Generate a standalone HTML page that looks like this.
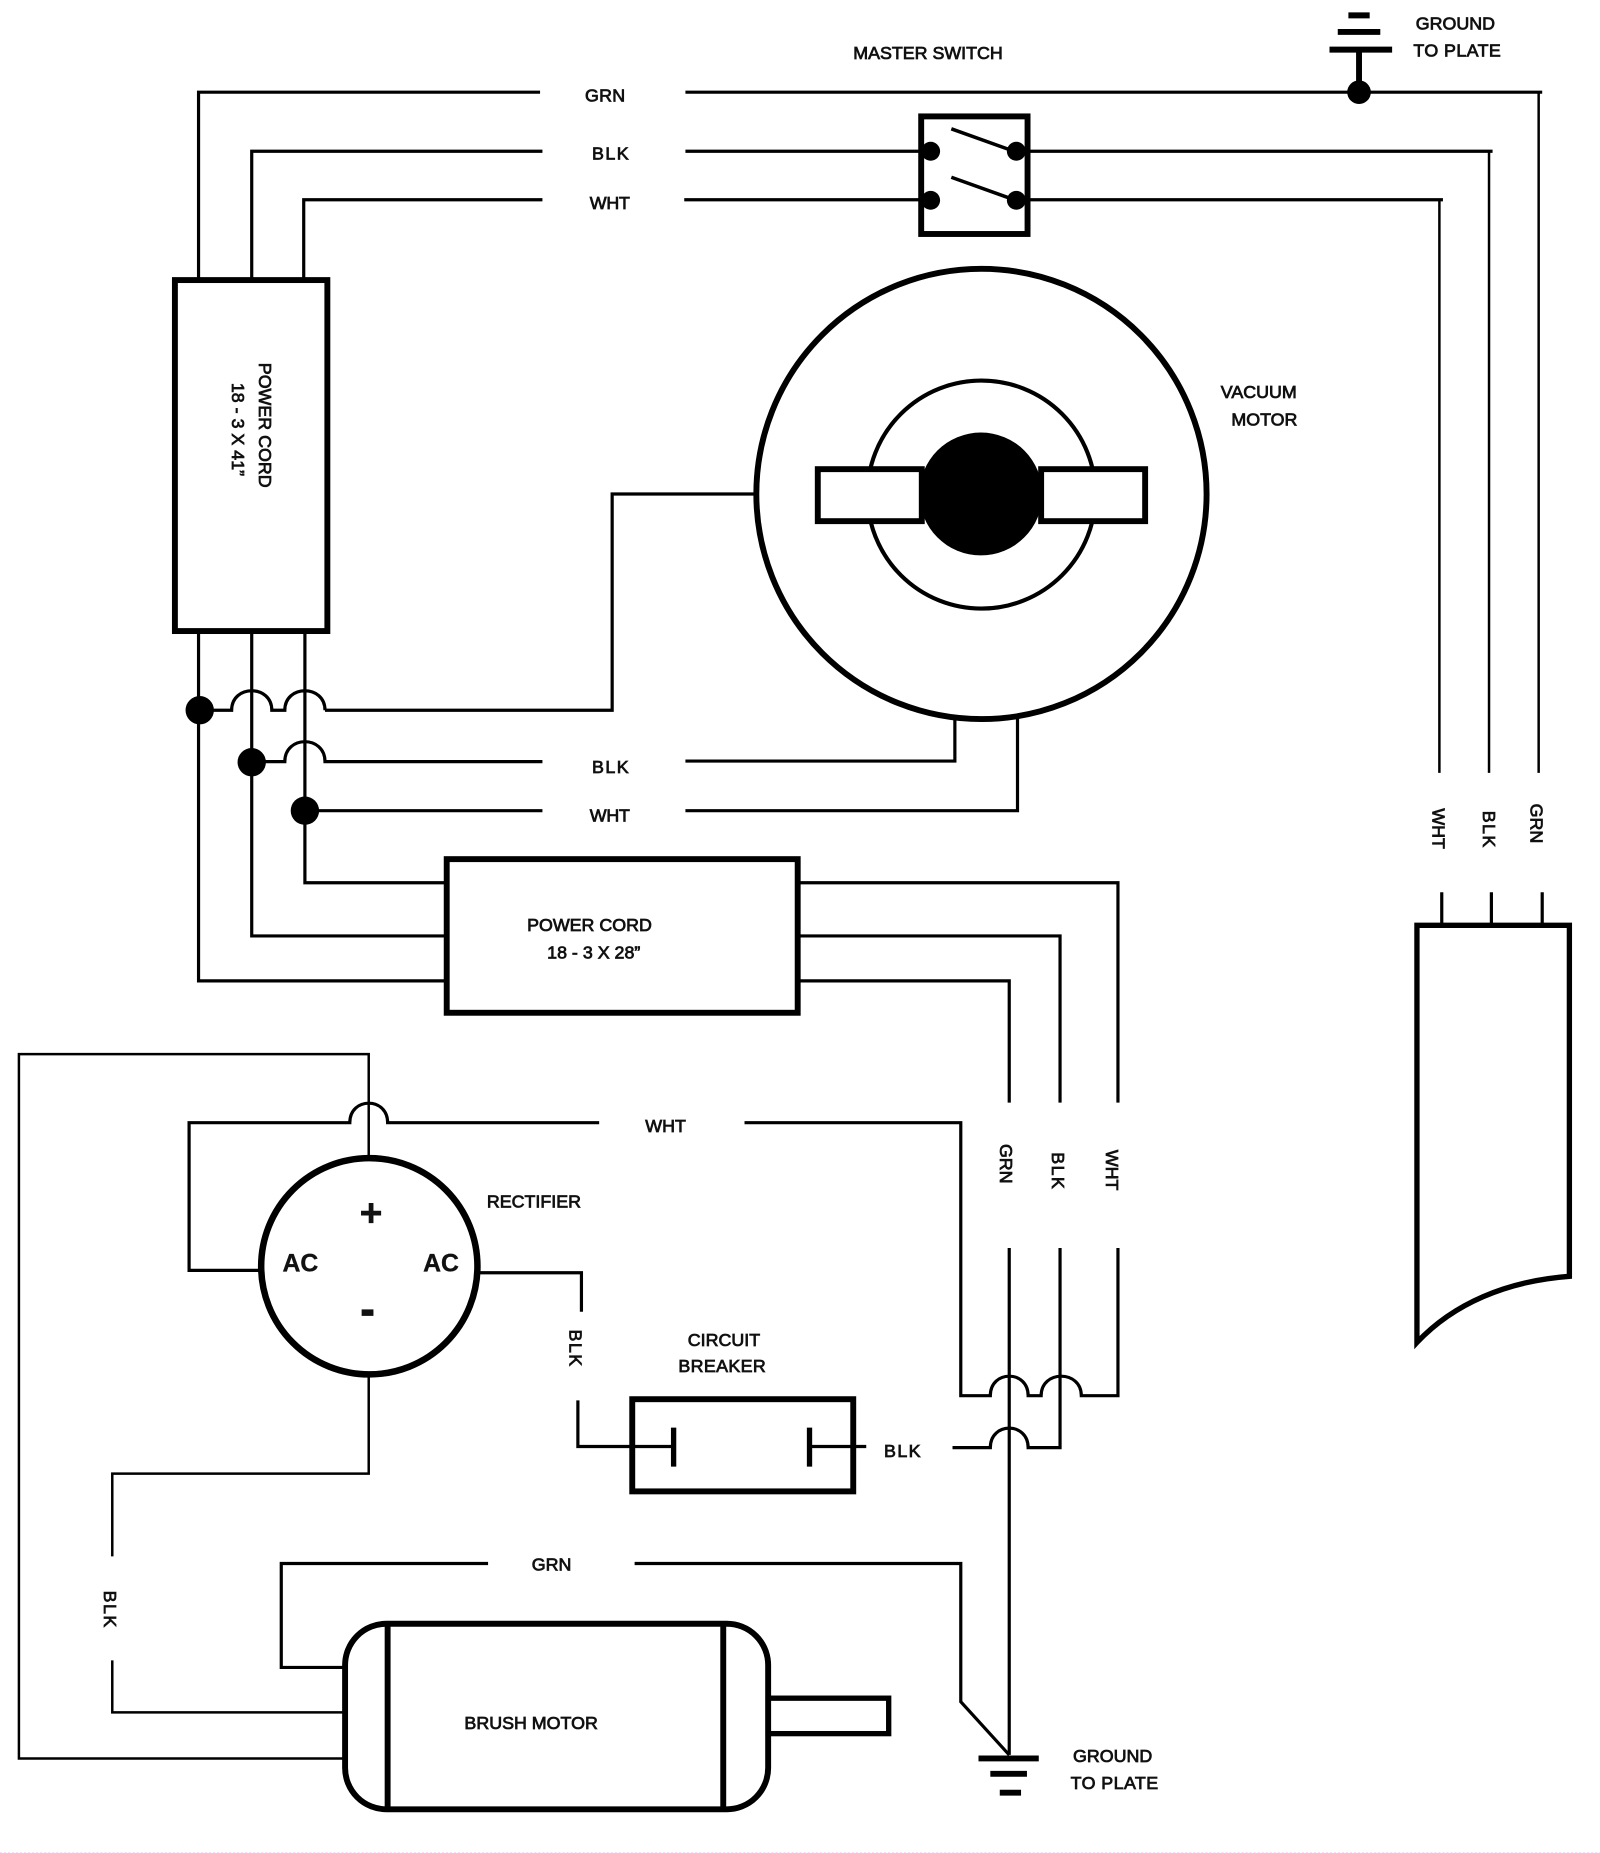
<!DOCTYPE html>
<html><head><meta charset="utf-8"><style>
html,body{margin:0;padding:0;background:#fff}
svg{display:block}
text{font-family:"Liberation Sans",sans-serif;font-size:15.1px;fill:#111;stroke:#111;stroke-width:.65px}
.w{fill:none;stroke:#000;stroke-width:2.7;stroke-linejoin:miter}
.t{fill:none;stroke:#000;stroke-width:5}
.w1{fill:none;stroke:#000;stroke-width:2.1}
</style></head><body>
<svg width="1600" height="1853" viewBox="0 0 1353.9 1568" xmlns="http://www.w3.org/2000/svg">
<rect width="1354" height="1568" fill="#fff"/>
<line x1="0" y1="1567.6" x2="1354" y2="1567.6" stroke="#ffd8f4" stroke-width=".85" stroke-dasharray="1.7 1.7"/>
<!-- top wires -->
<path class="w" d="M168 236V78H457M580 78H1305"/>
<path class="w1" d="M1302 78V654"/>
<path class="w" d="M213 236V128H459M580 128H780M870 128H1263"/>
<path class="w1" d="M1260 128V654"/>
<path class="w" d="M257 236V169H459M579 169H780M870 169H1221"/>
<path class="w1" d="M1218 169V654"/>
<!-- ground top -->
<path class="t" d="M1141 13H1159M1132 27H1168M1125 42H1178M1150 42V78" />
<circle cx="1150" cy="78" r="10"/>
<!-- switch -->
<rect class="t" x="779.500" y="98.500" width="90" height="99.500"/>
<circle cx="787.500" cy="128" r="8"/><circle cx="860" cy="128" r="8"/><circle cx="787.500" cy="169.500" r="8"/><circle cx="860" cy="169.500" r="8"/>
<path d="M805 109L858 128M805 150L858 169" fill="none" stroke="#000" stroke-width="3"/>
<!-- power cord 1 -->
<rect class="t" x="148" y="237" width="129" height="297"/>
<text transform="translate(219,307) rotate(90)">POWER CORD</text>
<text transform="translate(196.500,324) rotate(90)">18 - 3 X 41”</text>
<!-- vacuum motor -->
<path class="w" d="M640 418H518V601H275"/>
<circle cx="830.500" cy="418" r="190.500" class="t" fill="none"/>
<circle cx="830.500" cy="418.500" r="96.500" fill="none" stroke="#000" stroke-width="3.500"/>
<rect class="t" x="692" y="397" width="88" height="44" style="fill:#fff"/>
<rect class="t" x="881" y="397" width="88" height="44" style="fill:#fff"/>
<circle cx="830" cy="418" r="52"/>
<!-- junctions -->
<path class="w" d="M168 534V830H378M213 534V792H378M258 534V747H378"/>
<path class="w" d="M169 601H196C196 579 230 579 230 601H241C241 579 275 579 275 601"/>
<path class="w" d="M213 644.500H241C241 622 275 622 275 644.500H459"/>
<path class="w" d="M258 686H459"/>
<circle cx="169" cy="601" r="12"/><circle cx="213" cy="645" r="12"/><circle cx="258" cy="686" r="12"/>
<path class="w" d="M580 644H808V608M580 686H861V608"/>
<!-- power cord 2 -->
<rect class="t" x="378" y="727" width="297" height="130"/>
<path class="w" d="M675 747H946V933M675 792H897V933M675 830H854V933"/>
<path class="w" d="M854 1056V1485"/>
<path class="w" d="M897 1056V1225H870C870 1203 838 1203 838 1225H806"/>
<path class="w" d="M946 1056V1181H915C915 1159 881 1159 881 1181H870C870 1159 838 1159 838 1181H813V950H630"/>
<path class="w" d="M507 950H328C328 928 296 928 296 950H160V1075H220"/>
<!-- rectifier -->
<path class="w1" d="M312 978V892H16V1488H292"/>
<circle cx="312.500" cy="1071.500" r="91.500" class="t" fill="none" style="stroke-width:5.500"/>
<path class="w" d="M406 1077H492V1110M489 1185V1224H535"/>
<path class="w1" d="M312 1165V1247H95V1317M95 1405V1449H292"/>
<path class="w" d="M413 1323H238V1411H292M537 1323H813V1440L854 1485"/>
<!-- breaker -->
<rect class="t" x="535" y="1184" width="187" height="78"/>
<path class="w" d="M535 1224H570M685 1224H733"/>
<path d="M570 1208V1241M685 1208V1241" fill="none" stroke="#000" stroke-width="4.500"/>
<!-- brush motor -->
<rect class="t" x="292" y="1374" width="358" height="157" rx="35" ry="35"/>
<path class="t" d="M328 1374V1531M612 1374V1531"/>
<rect class="t" x="650" y="1437" width="102" height="30" style="stroke-width:4.500"/>
<!-- ground bottom -->
<path class="t" d="M828 1488H879M838 1501H869M846 1517H864"/>
<!-- right box -->
<path class="t" d="M1199 1136V783H1328V1080C1275 1084 1230 1103 1199 1136Z" style="stroke-width:4.500"/>
<path class="w" d="M1220 755V783M1262 755V783M1305 755V783"/>
<!-- labels -->
<text x="722" y="50">MASTER SWITCH</text>
<text x="1198" y="25">GROUND</text>
<text x="1196" y="48" textLength="74">TO PLATE</text>
<text x="495" y="86" textLength="34">GRN</text>
<text x="501" y="135" textLength="31">BLK</text>
<text x="499" y="177" textLength="34">WHT</text>
<text x="1033" y="337">VACUUM</text>
<text x="1042" y="360">MOTOR</text>
<text x="501" y="654" textLength="31">BLK</text>
<text x="499" y="695" textLength="34">WHT</text>
<text transform="translate(1212,684) rotate(90)">WHT</text>
<text transform="translate(1255,686) rotate(90)" textLength="31">BLK</text>
<text transform="translate(1295,680) rotate(90)">GRN</text>
<text x="446" y="788">POWER CORD</text>
<text x="463" y="811">18 - 3 X 28”</text>
<text x="546" y="958">WHT</text>
<text transform="translate(846,968) rotate(90)">GRN</text>
<text transform="translate(890,975) rotate(90)" textLength="31">BLK</text>
<text transform="translate(936,973) rotate(90)">WHT</text>
<text x="412" y="1022">RECTIFIER</text>
<text transform="translate(482,1125) rotate(90)" textLength="31">BLK</text>
<text x="582" y="1139">CIRCUIT</text>
<text x="574" y="1161" textLength="74">BREAKER</text>
<text x="748" y="1233" textLength="31">BLK</text>
<text x="450" y="1329">GRN</text>
<text transform="translate(88,1346) rotate(90)" textLength="31">BLK</text>
<text x="393" y="1463">BRUSH MOTOR</text>
<text x="908" y="1491">GROUND</text>
<text x="906" y="1514" textLength="74">TO PLATE</text>
<text x="239" y="1076" style="font-size:21px;font-weight:bold;stroke-width:.3px">AC</text>
<text x="358" y="1076" style="font-size:21px;font-weight:bold;stroke-width:.3px">AC</text>
<path d="M314 1018V1035M305.500 1026.500H322.500" fill="none" stroke="#111" stroke-width="4"/>
<rect x="306" y="1108" width="10" height="5.500" fill="#111"/>
</svg>
</body></html>
